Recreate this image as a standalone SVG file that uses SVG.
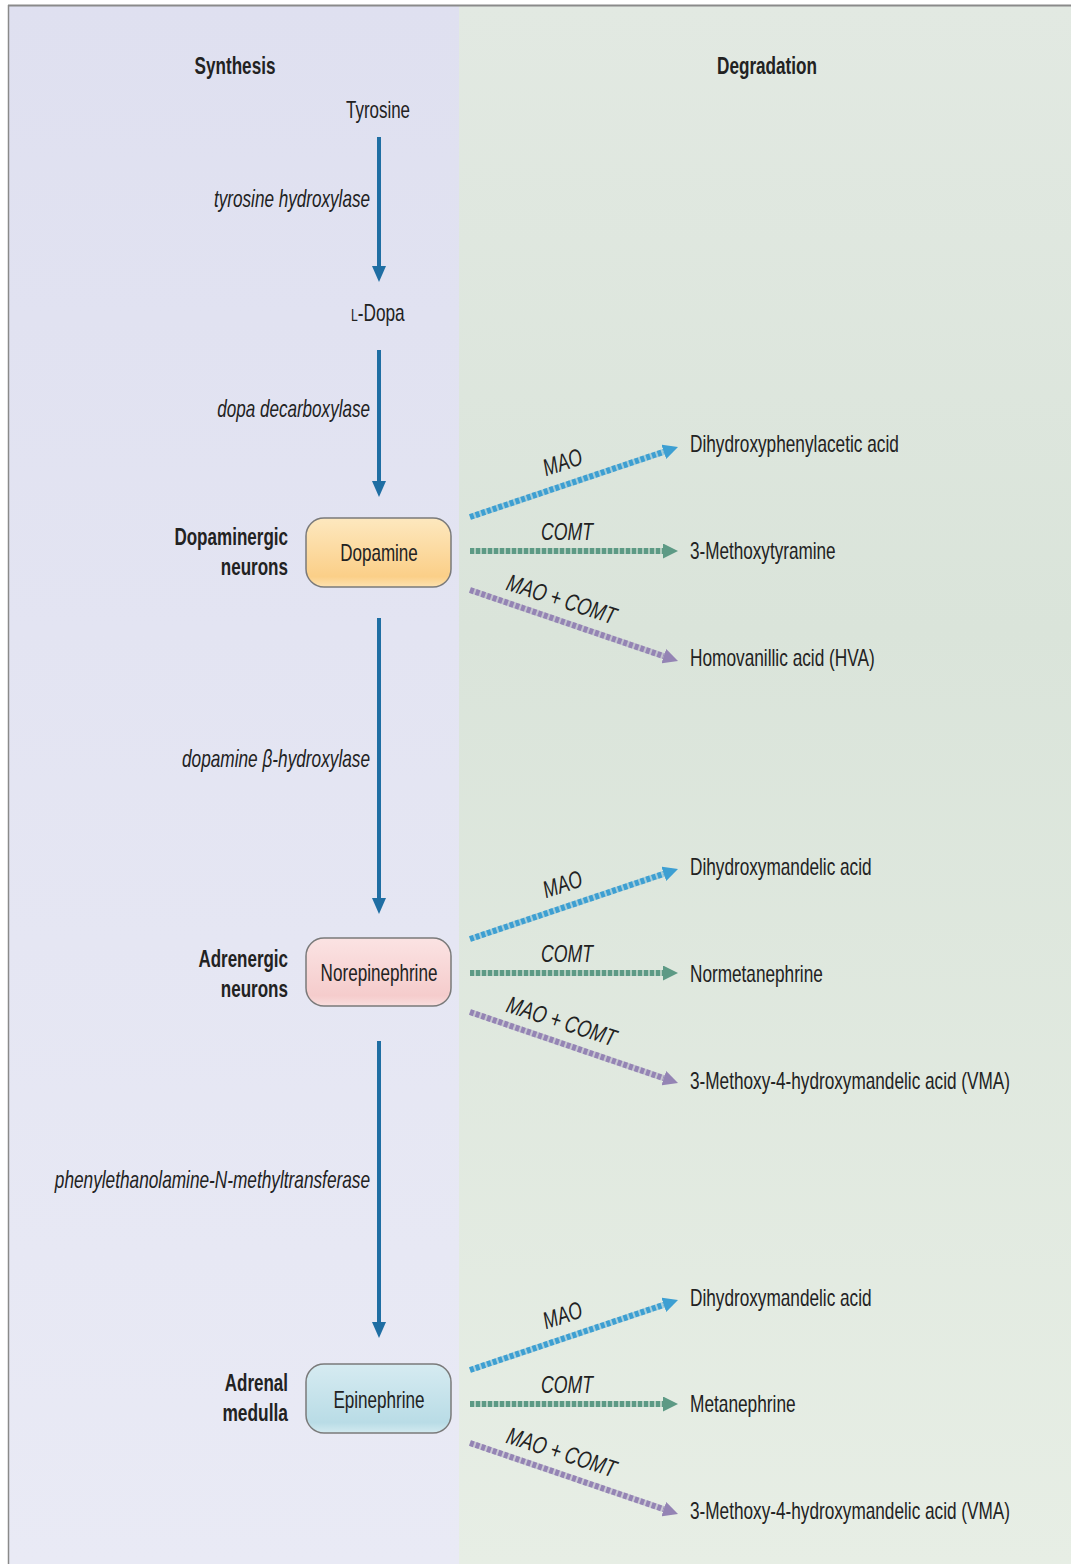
<svg xmlns="http://www.w3.org/2000/svg" width="1071" height="1564" viewBox="0 0 1071 1564">
<defs>
<linearGradient id="bgL" x1="0" y1="0" x2="0" y2="1"><stop offset="0" stop-color="#dfe0f0"/><stop offset="1" stop-color="#e9eaf5"/></linearGradient>
<linearGradient id="bgR" x1="0" y1="0" x2="0" y2="1"><stop offset="0" stop-color="#e2e9e2"/><stop offset="0.4" stop-color="#dae4da"/><stop offset="1" stop-color="#e7eee5"/></linearGradient>
<linearGradient id="gOr" x1="0" y1="0" x2="0" y2="1"><stop offset="0" stop-color="#fde8bf"/><stop offset="0.85" stop-color="#fbcf88"/><stop offset="1" stop-color="#fde2b0"/></linearGradient>
<linearGradient id="gPk" x1="0" y1="0" x2="0" y2="1"><stop offset="0" stop-color="#fbe3e3"/><stop offset="0.85" stop-color="#f5cccc"/><stop offset="1" stop-color="#f9dede"/></linearGradient>
<linearGradient id="gBl" x1="0" y1="0" x2="0" y2="1"><stop offset="0" stop-color="#d6ebf1"/><stop offset="0.85" stop-color="#b9dce6"/><stop offset="1" stop-color="#d3eaf0"/></linearGradient>
<marker id="mV" markerUnits="userSpaceOnUse" markerWidth="16" markerHeight="14" refX="0" refY="7" orient="auto"><path d="M0,0 L16,7 L0,14 z" fill="#1f6ea3"/></marker>
<marker id="mB" markerUnits="userSpaceOnUse" markerWidth="15" markerHeight="15" refX="0" refY="7.5" orient="auto"><path d="M0,0 L15,7.5 L0,15 z" fill="#3d9fd2"/></marker>
<marker id="mG" markerUnits="userSpaceOnUse" markerWidth="15" markerHeight="15" refX="0" refY="7.5" orient="auto"><path d="M0,0 L15,7.5 L0,15 z" fill="#5d9a85"/></marker>
<marker id="mP" markerUnits="userSpaceOnUse" markerWidth="15" markerHeight="15" refX="0" refY="7.5" orient="auto"><path d="M0,0 L15,7.5 L0,15 z" fill="#9484b4"/></marker>
<style>
text{font-family:"Liberation Sans",Arial,sans-serif;font-size:24px;fill:#222;}
.b{font-weight:bold;}
.i{font-style:italic;}
.e{text-anchor:end;}
.m{text-anchor:middle;}
.box{stroke:#7a7a7a;stroke-width:1.5;}
.v{stroke:#1f6ea3;stroke-width:4;fill:none;}
.d{stroke-width:6;stroke-dasharray:4 2;fill:none;}
.dB{stroke:#3d9fd2;}
.dG{stroke:#5d9a85;}
.dP{stroke:#9484b4;}
.under{stroke-width:6;fill:none;opacity:0.35;}
</style>
</defs>

<g id="background">
<rect x="9" y="6" width="450" height="1558" fill="url(#bgL)"/>
<rect x="459" y="6" width="612" height="1558" fill="url(#bgR)"/>
<line x1="8" y1="5.5" x2="1071" y2="5.5" stroke="#8a8a8a" stroke-width="2"/>
<line x1="8.5" y1="5" x2="8.5" y2="1564" stroke="#8a8a8a" stroke-width="1.5"/>
</g>

<g id="headers">
<text class="b m" transform="translate(235,74) scale(0.8,1)" textLength="101" lengthAdjust="spacingAndGlyphs">Synthesis</text>
<text class="b m" transform="translate(767,74) scale(0.8,1)" textLength="125" lengthAdjust="spacingAndGlyphs">Degradation</text>
</g>

<g id="connectors">
<line class="v" x1="379" y1="137" x2="379" y2="266" marker-end="url(#mV)"/>
<line class="v" x1="379" y1="350" x2="379" y2="481" marker-end="url(#mV)"/>
<line class="v" x1="379" y1="618" x2="379" y2="898" marker-end="url(#mV)"/>
<line class="v" x1="379" y1="1041" x2="379" y2="1322" marker-end="url(#mV)"/>

<g id="deg-dopamine">
<line class="under dB" x1="470" y1="517" x2="663.8" y2="451.8"/>
<line class="d dB" x1="470" y1="517" x2="663.8" y2="451.8" marker-end="url(#mB)"/>
<line class="under dG" x1="470" y1="551" x2="663" y2="551"/>
<line class="d dG" x1="470" y1="551" x2="663" y2="551" marker-end="url(#mG)"/>
<line class="under dP" x1="470" y1="590" x2="663.8" y2="656.2"/>
<line class="d dP" x1="470" y1="590" x2="663.8" y2="656.2" marker-end="url(#mP)"/>
</g>
<g id="deg-norepinephrine" transform="translate(0,422)">
<line class="under dB" x1="470" y1="517" x2="663.8" y2="451.8"/>
<line class="d dB" x1="470" y1="517" x2="663.8" y2="451.8" marker-end="url(#mB)"/>
<line class="under dG" x1="470" y1="551" x2="663" y2="551"/>
<line class="d dG" x1="470" y1="551" x2="663" y2="551" marker-end="url(#mG)"/>
<line class="under dP" x1="470" y1="590" x2="663.8" y2="656.2"/>
<line class="d dP" x1="470" y1="590" x2="663.8" y2="656.2" marker-end="url(#mP)"/>
</g>
<g id="deg-epinephrine" transform="translate(0,853)">
<line class="under dB" x1="470" y1="517" x2="663.8" y2="451.8"/>
<line class="d dB" x1="470" y1="517" x2="663.8" y2="451.8" marker-end="url(#mB)"/>
<line class="under dG" x1="470" y1="551" x2="663" y2="551"/>
<line class="d dG" x1="470" y1="551" x2="663" y2="551" marker-end="url(#mG)"/>
<line class="under dP" x1="470" y1="590" x2="663.8" y2="656.2"/>
<line class="d dP" x1="470" y1="590" x2="663.8" y2="656.2" marker-end="url(#mP)"/>
</g>
</g>

<g id="enzyme-labels">
<text class="i e" transform="translate(370,207) scale(0.8,1)" textLength="195" lengthAdjust="spacingAndGlyphs">tyrosine hydroxylase</text>
<text class="i e" transform="translate(370,417) scale(0.8,1)" textLength="191" lengthAdjust="spacingAndGlyphs">dopa decarboxylase</text>
<text class="i e" transform="translate(370,767) scale(0.8,1)" textLength="235" lengthAdjust="spacingAndGlyphs">dopamine β-hydroxylase</text>
<text class="i e" transform="translate(370,1188) scale(0.8,1)" textLength="394" lengthAdjust="spacingAndGlyphs">phenylethanolamine-N-methyltransferase</text>
</g>

<g id="deg-labels">
<g id="lab-dopamine">
<text class="i m" transform="translate(565,470) rotate(-18) scale(0.8,1)" textLength="50" lengthAdjust="spacingAndGlyphs">MAO</text>
<text class="i m" transform="translate(567,540) scale(0.8,1)" textLength="65" lengthAdjust="spacingAndGlyphs">COMT</text>
<text class="i m" transform="translate(559,607) rotate(18) scale(0.8,1)" textLength="142" lengthAdjust="spacingAndGlyphs">MAO + COMT</text>
</g>
<g id="lab-norepinephrine" transform="translate(0,422)">
<text class="i m" transform="translate(565,470) rotate(-18) scale(0.8,1)" textLength="50" lengthAdjust="spacingAndGlyphs">MAO</text>
<text class="i m" transform="translate(567,540) scale(0.8,1)" textLength="65" lengthAdjust="spacingAndGlyphs">COMT</text>
<text class="i m" transform="translate(559,607) rotate(18) scale(0.8,1)" textLength="142" lengthAdjust="spacingAndGlyphs">MAO + COMT</text>
</g>
<g id="lab-epinephrine" transform="translate(0,853)">
<text class="i m" transform="translate(565,470) rotate(-18) scale(0.8,1)" textLength="50" lengthAdjust="spacingAndGlyphs">MAO</text>
<text class="i m" transform="translate(567,540) scale(0.8,1)" textLength="65" lengthAdjust="spacingAndGlyphs">COMT</text>
<text class="i m" transform="translate(559,607) rotate(18) scale(0.8,1)" textLength="142" lengthAdjust="spacingAndGlyphs">MAO + COMT</text>
</g>
</g>

<g id="node-tyrosine"><text class="m" transform="translate(378,118) scale(0.8,1)" textLength="80" lengthAdjust="spacingAndGlyphs">Tyrosine</text></g>
<g id="node-ldopa"><text transform="translate(351,321) scale(0.8,1)" textLength="67" lengthAdjust="spacingAndGlyphs"><tspan font-size="17">L</tspan>-Dopa</text></g>

<g id="node-dopamine">
<rect class="box" x="306" y="518" width="145" height="69" rx="18" fill="url(#gOr)"/>
<text class="m" transform="translate(379,561) scale(0.8,1)" textLength="97" lengthAdjust="spacingAndGlyphs">Dopamine</text>
</g>
<g id="label-dopaminergic">
<text class="b e" transform="translate(288,545) scale(0.8,1)" textLength="142" lengthAdjust="spacingAndGlyphs">Dopaminergic</text>
<text class="b e" transform="translate(288,575) scale(0.8,1)" textLength="84" lengthAdjust="spacingAndGlyphs">neurons</text>
</g>

<g id="node-norepinephrine">
<rect class="box" x="306" y="938" width="145" height="68" rx="18" fill="url(#gPk)"/>
<text class="m" transform="translate(379,981) scale(0.8,1)" textLength="146" lengthAdjust="spacingAndGlyphs">Norepinephrine</text>
</g>
<g id="label-adrenergic">
<text class="b e" transform="translate(288,967) scale(0.8,1)" textLength="112" lengthAdjust="spacingAndGlyphs">Adrenergic</text>
<text class="b e" transform="translate(288,997) scale(0.8,1)" textLength="84" lengthAdjust="spacingAndGlyphs">neurons</text>
</g>

<g id="node-epinephrine">
<rect class="box" x="306" y="1364" width="145" height="69" rx="18" fill="url(#gBl)"/>
<text class="m" transform="translate(379,1408) scale(0.8,1)" textLength="114" lengthAdjust="spacingAndGlyphs">Epinephrine</text>
</g>
<g id="label-adrenal">
<text class="b e" transform="translate(288,1391) scale(0.8,1)" textLength="79" lengthAdjust="spacingAndGlyphs">Adrenal</text>
<text class="b e" transform="translate(288,1421) scale(0.8,1)" textLength="82" lengthAdjust="spacingAndGlyphs">medulla</text>
</g>

<g id="node-dopac"><text transform="translate(690,452) scale(0.8,1)" textLength="261" lengthAdjust="spacingAndGlyphs">Dihydroxyphenylacetic acid</text></g>
<g id="node-3mt"><text transform="translate(690,559) scale(0.8,1)" textLength="182" lengthAdjust="spacingAndGlyphs">3-Methoxytyramine</text></g>
<g id="node-hva"><text transform="translate(690,666) scale(0.8,1)" textLength="231" lengthAdjust="spacingAndGlyphs">Homovanillic acid (HVA)</text></g>
<g id="node-dhma-1"><text transform="translate(690,875) scale(0.8,1)" textLength="227" lengthAdjust="spacingAndGlyphs">Dihydroxymandelic acid</text></g>
<g id="node-normetanephrine"><text transform="translate(690,982) scale(0.8,1)" textLength="166" lengthAdjust="spacingAndGlyphs">Normetanephrine</text></g>
<g id="node-vma-1"><text transform="translate(690,1089) scale(0.8,1)" textLength="400" lengthAdjust="spacingAndGlyphs">3-Methoxy-4-hydroxymandelic acid (VMA)</text></g>
<g id="node-dhma-2"><text transform="translate(690,1306) scale(0.8,1)" textLength="227" lengthAdjust="spacingAndGlyphs">Dihydroxymandelic acid</text></g>
<g id="node-metanephrine"><text transform="translate(690,1412) scale(0.8,1)" textLength="132" lengthAdjust="spacingAndGlyphs">Metanephrine</text></g>
<g id="node-vma-2"><text transform="translate(690,1519) scale(0.8,1)" textLength="400" lengthAdjust="spacingAndGlyphs">3-Methoxy-4-hydroxymandelic acid (VMA)</text></g>
</svg>
